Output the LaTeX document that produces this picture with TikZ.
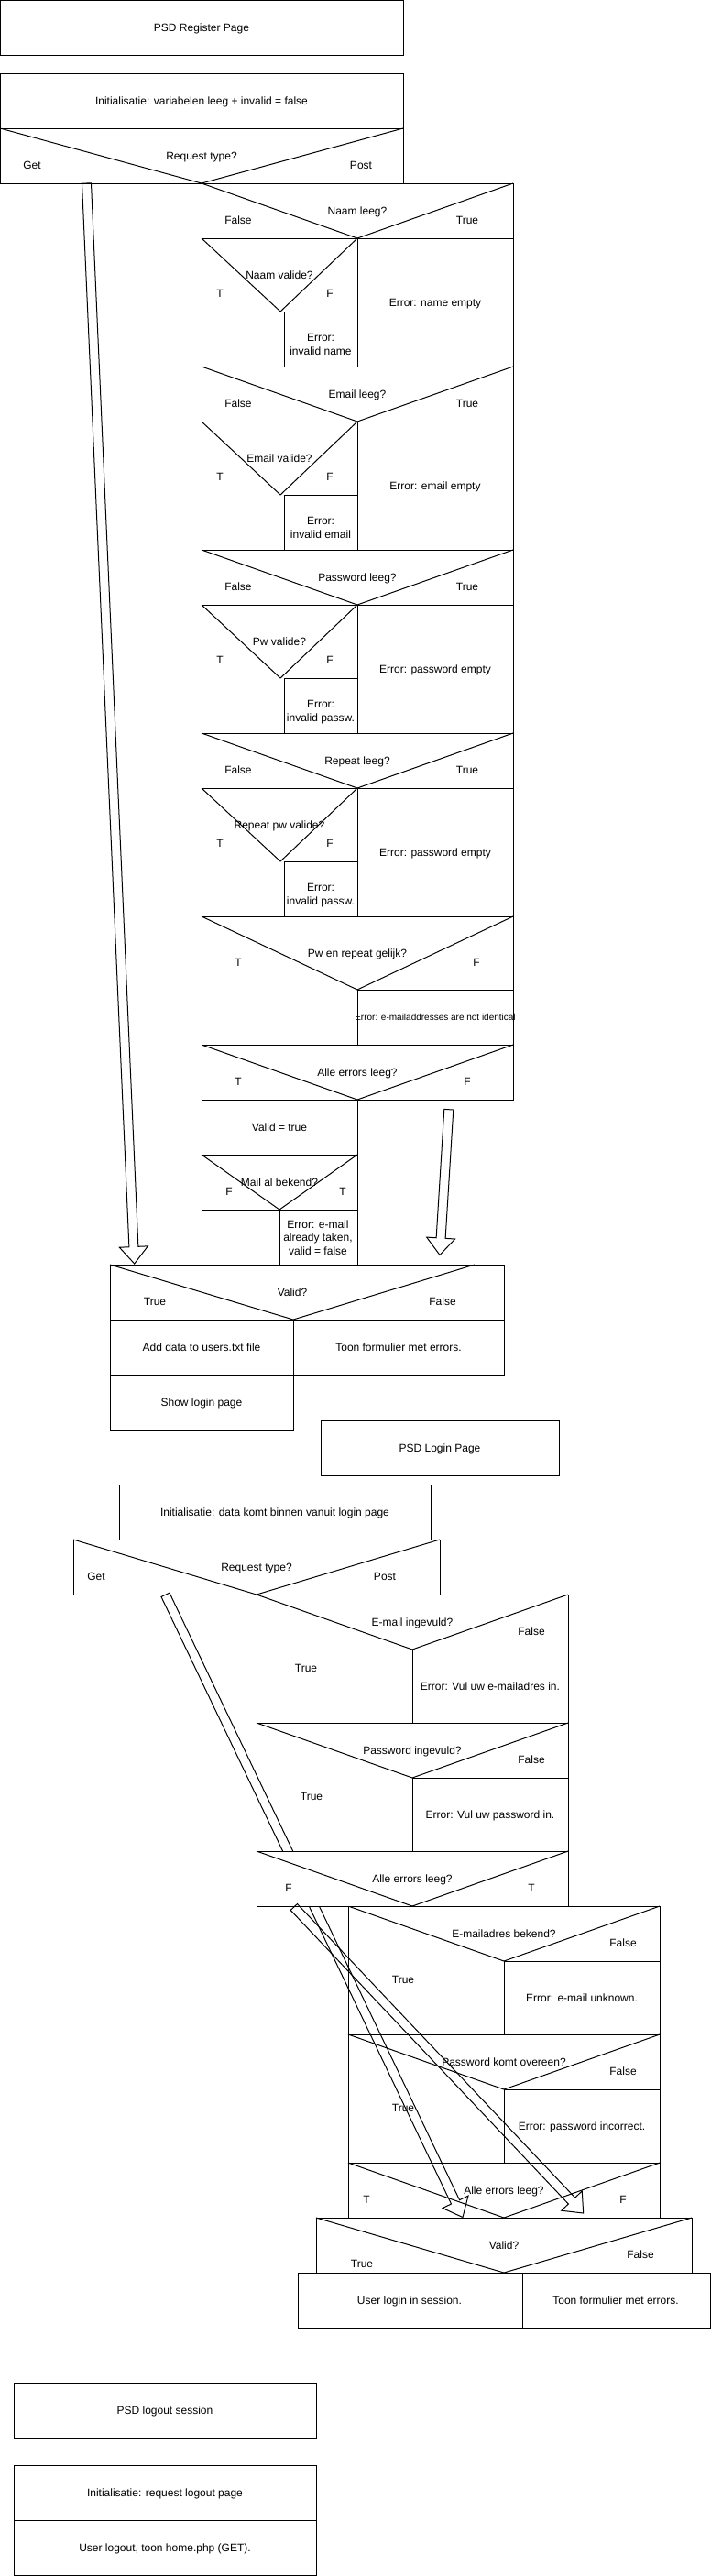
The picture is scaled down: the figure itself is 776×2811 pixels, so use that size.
\documentclass[tikz,border=0pt]{standalone}
\usepackage{fontspec}
\setmainfont{Liberation Sans}
\usetikzlibrary{calc}
\newcommand{\flexarr}[2]{%
  \coordinate (#1-b) at ($(#2)!18.5pt!(#1)$);
  \draw[flex] ($(#1)!5pt!90:(#2)$) -- ($(#1-b)!5pt!90:(#2)$) -- ($(#1-b)!15.5pt!90:(#2)$) -- (#2)
     -- ($(#1-b)!15.5pt!-90:(#2)$) -- ($(#1-b)!5pt!-90:(#2)$) -- ($(#1)!5pt!-90:(#2)$) -- cycle;
}
\begin{document}
\begin{tikzpicture}[x=1pt,y=-1pt,
  box/.style={draw=black,fill=white,line width=1pt},
  seg/.style={draw=black,line width=1pt},
  lbl/.style={font=\fontsize{12}{14.5}\selectfont,inner sep=0pt,text height=8.6pt,text depth=0pt},
  lblsmall/.style={font=\fontsize{10}{12}\selectfont,inner sep=0pt,text height=7.2pt,text depth=0pt},
  flex/.style={draw=black,line width=1pt,line join=miter}]
\useasboundingbox (0,0) rectangle (776,2811);

% ================= REGISTER =================
\draw[box] (0,0) rectangle (440,60);
\node[lbl] (regtitle) at (220,30) {PSD Register Page};
\draw[box] (0,80) rectangle (440,140);
\node[lbl] (reginit) at (220,110) {Initialisatie: variabelen leeg + invalid = false};
\draw[box] (0,140) rectangle (440,200);
\draw[seg] (0,140) -- (220,200) -- (440,140);
\node[lbl] (regreq) at (220,170) {Request type?};
\node[lbl] (regget) at (35,180) {Get};
\node[lbl] (regpost) at (394,180) {Post};

\foreach \y/\q/\qq/\ei/\er in {200/Naam leeg?/Naam valide?/invalid name/name empty,
  400/Email leeg?/Email valide?/invalid email/email empty,
  600/Password leeg?/Pw valide?/invalid passw./password empty,
  800/Repeat leeg?/Repeat pw valide?/invalid passw./password empty}{
  \draw[box] (220,\y) rectangle (560,\y+60);
  \draw[seg] (220,\y) -- (390,\y+60) -- (560,\y);
  \node[lbl] (q\y) at (390,\y+30) {\q};
  \node[lbl] (fa\y) at (260,\y+40) {False};
  \node[lbl] (tr\y) at (510,\y+40) {True};
  \draw[box] (220,\y+60) rectangle (560,\y+200);
  \draw[seg] (390,\y+60) -- (390,\y+200);
  \draw[seg] (220,\y+60) -- (306,\y+140) -- (390,\y+60);
  \draw[box] (310,\y+140) rectangle (390,\y+200);
  \node[lbl] (qq\y) at (305,\y+100) {\qq};
  \node[lbl] (t\y) at (240,\y+120) {T};
  \node[lbl] (f\y) at (360,\y+120) {F};
  \node[lbl] (eia\y) at (350,\y+168) {Error:};
  \node[lbl] (eib\y) at (350,\y+183) {\ei};
  \node[lbl] (er\y) at (475,\y+130) {Error: \er};
}

% Pw en repeat gelijk?
\draw[box] (220,1000) rectangle (560,1140);
\draw[seg] (220,1000) -- (390,1080) -- (560,1000);
\draw[seg] (390,1080) -- (560,1080);
\draw[seg] (390,1080) -- (390,1140);
\node[lbl] (pweq) at (390,1040) {Pw en repeat gelijk?};
\node[lbl] (pweqt) at (260,1050) {T};
\node[lbl] (pweqf) at (520,1050) {F};
\node[lblsmall] (pweqerr) at (475,1110) {Error: e-mailaddresses are not identical};

% Alle errors leeg?
\draw[box] (220,1140) rectangle (560,1200);
\draw[seg] (220,1140) -- (390,1200) -- (560,1140);
\node[lbl] (regall) at (390,1170) {Alle errors leeg?};
\node[lbl] (regallt) at (260,1180) {T};
\node[lbl] (regallf) at (510,1180) {F};

\draw[box] (220,1200) rectangle (390,1260);
\node[lbl] (validtrue) at (305,1230) {Valid = true};
\draw[box] (220,1260) rectangle (390,1320);
\draw[seg] (220,1260) -- (305,1320) -- (390,1260);
\node[lbl] (mailbek) at (305,1290) {Mail al bekend?};
\node[lbl] (mailbekf) at (250,1300) {F};
\node[lbl] (mailbekt) at (374,1300) {T};
\draw[box] (305,1320) rectangle (390,1380);
\node[lbl] (mailtakena) at (347,1336) {Error: e-mail};
\node[lbl] (mailtakenb) at (347,1350.5) {already taken,};
\node[lbl] (mailtakenc) at (347,1365) {valid = false};

% Valid?
\draw[box] (120,1380) rectangle (550,1440);
\draw[seg] (120,1380) -- (320,1440) -- (518,1380);
\node[lbl] (regvalid) at (319,1410) {Valid?};
\node[lbl] (regvalidt) at (169,1420) {True};
\node[lbl] (regvalidf) at (483,1420) {False};
\draw[box] (120,1440) rectangle (320,1500);
\node[lbl] (adddata) at (220,1470) {Add data to users.txt file};
\draw[box] (320,1440) rectangle (550,1500);
\node[lbl] (regtoon) at (435,1470) {Toon formulier met errors.};
\draw[box] (120,1500) rectangle (320,1560);
\node[lbl] (showlogin) at (220,1530) {Show login page};

% register arrows
\coordinate (ra1) at (94.5,200);
\coordinate (ra1tip) at (146.7,1379);
\coordinate (ra2) at (489.8,1210.7);
\coordinate (ra2tip) at (480,1369.5);
\flexarr{ra1}{ra1tip}
\flexarr{ra2}{ra2tip}

% ================= LOGIN =================
\draw[box] (350,1550) rectangle (610,1610);
\node[lbl] (logtitle) at (480,1580) {PSD Login Page};
\draw[box] (130,1620) rectangle (470,1680);
\node[lbl] (loginit) at (300,1650) {Initialisatie: data komt binnen vanuit login page};
\draw[box] (80,1680) rectangle (480,1740);
\draw[seg] (80,1680) -- (280,1740) -- (480,1680);
\node[lbl] (logreq) at (280,1710) {Request type?};
\node[lbl] (logget) at (105,1720) {Get};
\node[lbl] (logpost) at (420,1720) {Post};

\foreach \y/\q/\e/\tx in {1740/E-mail ingevuld?/Error: Vul uw e-mailadres in./334,
  1880/Password ingevuld?/Error: Vul uw password in./340}{
  \draw[box] (280,\y) rectangle (620,\y+140);
  \draw[seg] (280,\y) -- (450,\y+60) -- (620,\y);
  \draw[seg] (450,\y+60) -- (620,\y+60);
  \draw[seg] (450,\y+60) -- (450,\y+140);
  \node[lbl] (lq\y) at (450,\y+30) {\q};
  \node[lbl] (lf\y) at (580,\y+40) {False};
  \node[lbl] (lt\y) at (\tx,\y+80) {True};
  \node[lbl] (le\y) at (535,\y+100) {\e};
}

\foreach \y/\q/\e in {2080/E-mailadres bekend?/Error: e-mail unknown.,
  2220/Password komt overeen?/Error: password incorrect.}{
  \draw[box] (380,\y) rectangle (720,\y+140);
  \draw[seg] (380,\y) -- (550,\y+60) -- (720,\y);
  \draw[seg] (550,\y+60) -- (720,\y+60);
  \draw[seg] (550,\y+60) -- (550,\y+140);
  \node[lbl] (lq\y) at (550,\y+30) {\q};
  \node[lbl] (lf\y) at (680,\y+40) {False};
  \node[lbl] (lt\y) at (440,\y+80) {True};
  \node[lbl] (le\y) at (635,\y+100) {\e};
}

\draw[box] (380,2360) rectangle (720,2420);
\draw[seg] (380,2360) -- (550,2420) -- (720,2360);
\node[lbl] (logall2) at (550,2390) {Alle errors leeg?};
\node[lbl] (logall2t) at (400,2400) {T};
\node[lbl] (logall2f) at (680,2400) {F};

\draw[box] (345,2420) rectangle (755,2480);
\draw[seg] (345,2420) -- (550,2480) -- (755,2420);
\node[lbl] (logvalid) at (550,2450) {Valid?};
\node[lbl] (logvalidt) at (395,2470) {True};
\node[lbl] (logvalidf) at (699,2460) {False};
\draw[box] (325,2480) rectangle (570,2540);
\node[lbl] (userlogin) at (447,2510) {User login in session.};
\draw[box] (570,2480) rectangle (775,2540);
\node[lbl] (logtoon) at (672,2510) {Toon formulier met errors.};

% arrow from Get (behind the first "Alle errors leeg?")
\coordinate (la1) at (180.5,1740.3);
\coordinate (la1tip) at (505,2419.5);
\flexarr{la1}{la1tip}

\draw[box] (280,2020) rectangle (620,2080);
\draw[seg] (280,2020) -- (450,2080) -- (620,2020);
\node[lbl] (logall1) at (450,2050) {Alle errors leeg?};
\node[lbl] (logall1f) at (315,2060) {F};
\node[lbl] (logall1t) at (580,2060) {T};

\coordinate (la2) at (320.8,2081);
\coordinate (la2tip) at (636.7,2415);
\flexarr{la2}{la2tip}

% ================= LOGOUT =================
\draw[box] (15,2600) rectangle (345,2660);
\node[lbl] (outtitle) at (180,2630) {PSD logout session};
\draw[box] (15,2690) rectangle (345,2750);
\node[lbl] (outinit) at (180,2720) {Initialisatie: request logout page};
\draw[box] (15,2750) rectangle (345,2810);
\node[lbl] (outuser) at (180,2780) {User logout, toon home.php (GET).};
\end{tikzpicture}
\end{document}
